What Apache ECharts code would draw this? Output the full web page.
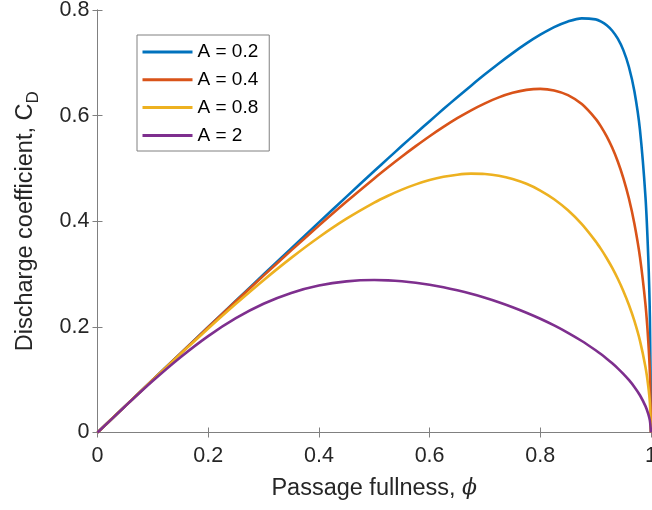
<!DOCTYPE html>
<html>
<head>
<meta charset="utf-8">
<script src="https://cdn.jsdelivr.net/npm/echarts@6/dist/echarts.min.js"></script>
<style>
html,body{margin:0;padding:0;background:#fff;}
#chart{width:652px;height:510px;}
</style>
</head>
<body>
<div id="chart"></div>
<script>
// Passage fullness values (x)
const phi = [0, 0.05, 0.1, 0.15, 0.2, 0.25, 0.3, 0.35, 0.4, 0.45, 0.5, 0.525, 0.55, 0.575, 0.6, 0.625, 0.65, 0.675, 0.7, 0.725, 0.75, 0.775, 0.8, 0.825, 0.85, 0.875, 0.9, 0.91, 0.92, 0.93, 0.94, 0.95, 0.96, 0.97, 0.98, 0.99, 0.995, 0.998, 1];
// Discharge coefficient values
const cdA02 = [0, 0.0500, 0.1000, 0.1499, 0.1998, 0.2496, 0.2992, 0.3487, 0.3979, 0.4467, 0.4951, 0.5190, 0.5428, 0.5663, 0.5895, 0.6124, 0.6349, 0.6568, 0.6782, 0.6988, 0.7184, 0.7367, 0.7532, 0.7675, 0.7783, 0.7842, 0.7822, 0.7780, 0.7712, 0.7608, 0.7457, 0.7240, 0.6925, 0.6460, 0.5735, 0.4463, 0.3332, 0.2182, 0];
const cdA04 = [0, 0.0500, 0.0999, 0.1497, 0.1992, 0.2484, 0.2970, 0.3448, 0.3917, 0.4373, 0.4811, 0.5022, 0.5226, 0.5422, 0.5610, 0.5786, 0.5951, 0.6101, 0.6233, 0.6345, 0.6431, 0.6487, 0.6506, 0.6477, 0.6388, 0.6218, 0.5940, 0.5788, 0.5607, 0.5390, 0.5131, 0.4818, 0.4435, 0.3954, 0.3326, 0.2424, 0.1741, 0.1111, 0];
const cdA08 = [0, 0.0500, 0.0997, 0.1488, 0.1969, 0.2436, 0.2884, 0.3306, 0.3697, 0.4048, 0.4352, 0.4483, 0.4599, 0.4698, 0.4779, 0.4841, 0.4882, 0.4901, 0.4895, 0.4862, 0.4801, 0.4709, 0.4582, 0.4417, 0.4207, 0.3945, 0.3619, 0.3467, 0.3300, 0.3116, 0.2911, 0.2681, 0.2419, 0.2113, 0.1740, 0.1240, 0.0880, 0.0558, 0];
const cdA2  = [0, 0.0497, 0.0979, 0.1426, 0.1826, 0.2165, 0.2438, 0.2643, 0.2783, 0.2862, 0.2887, 0.2881, 0.2864, 0.2836, 0.2798, 0.2750, 0.2692, 0.2626, 0.2550, 0.2466, 0.2372, 0.2268, 0.2154, 0.2028, 0.1888, 0.1733, 0.1557, 0.1480, 0.1398, 0.1310, 0.1215, 0.1110, 0.0995, 0.0863, 0.0705, 0.0499, 0.0353, 0.0224, 0];
const seriesNames = ['A = 0.2', 'A = 0.4', 'A = 0.8', 'A = 2'];
const seriesValues = [cdA02, cdA04, cdA08, cdA2];
const xTicks = [0, 0.2, 0.4, 0.6, 0.8, 1];
const yTicks = [0, 0.2, 0.4, 0.6, 0.8];

const colors = ['#0072BD', '#D95319', '#EDB120', '#7E2F8E'];
const FONT = 'Liberation Sans, Arial, sans-serif';
const AXC = '#808080';
const TXT = '#262626';

const chart = echarts.init(document.getElementById('chart'), null, {renderer: 'canvas'});

const tickFmt = v => String(Math.round(v * 10) / 10);

const baseX = {
  type: 'value', min: xTicks[0], max: xTicks[xTicks.length - 1], interval: 0.2,
  splitLine: {show: false},
  axisLine: {show: true, lineStyle: {color: AXC, width: 1}},
  axisTick: {show: true, inside: true, length: 5, lineStyle: {color: AXC}}
};
const baseY = {
  type: 'value', min: yTicks[0], max: yTicks[yTicks.length - 1], interval: 0.2,
  splitLine: {show: false},
  axisLine: {show: true, lineStyle: {color: AXC, width: 1}},
  axisTick: {show: true, inside: true, length: 5, lineStyle: {color: AXC}}
};

const option = {
  animation: false,
  backgroundColor: '#ffffff',
  color: colors,
  grid: {left: 97.5, right: 1, top: 10, bottom: 77.5, containLabel: false, outerBoundsMode: 'none'},
  legend: {
    orient: 'vertical',
    left: 137, top: 35,
    padding: [7, 11, 5.6, 5.5],
    backgroundColor: '#ffffff',
    borderColor: AXC, borderWidth: 1, borderRadius: 0,
    icon: 'rect',
    itemWidth: 50, itemHeight: 3,
    itemGap: 7.8,
    data: seriesNames,
    textStyle: {fontFamily: FONT, fontSize: 19, color: '#000', lineHeight: 20, padding: [0, 0, 0, 0]}
  },
  xAxis: [
    Object.assign({}, baseX, {
      position: 'bottom',
      axisLabel: {show: true, margin: 13, fontFamily: FONT, fontSize: 21.5, color: TXT, formatter: tickFmt, showMaxLabel: true, showMinLabel: true},
      name: '{a|Passage fullness, }{p|ϕ}',
      nameLocation: 'middle',
      nameGap: 44,
      nameTextStyle: {
        rich: {
          a: {fontFamily: FONT, fontSize: 23.5, color: TXT},
          p: {fontFamily: 'DejaVu Serif, serif', fontStyle: 'italic', fontSize: 22, color: TXT}
        }
      }
    }),
    Object.assign({}, baseX, {position: 'top', axisLabel: {show: false}})
  ],
  yAxis: [
    Object.assign({}, baseY, {
      position: 'left',
      axisLabel: {show: true, margin: 8, fontFamily: FONT, fontSize: 21.5, color: TXT, formatter: tickFmt},
      name: '{a|Discharge coefficient, C}{b|D}',
      nameLocation: 'middle',
      nameRotate: 90,
      nameGap: 56,
      nameTextStyle: {
        rich: {
          a: {fontFamily: FONT, fontSize: 23.5, color: TXT},
          b: {fontFamily: FONT, fontSize: 17, color: TXT, padding: [14, 0, 0, 0]}
        }
      }
    }),
    Object.assign({}, baseY, {position: 'right', axisLabel: {show: false}})
  ],
  series: seriesValues.map((vals, i) => ({
    name: seriesNames[i],
    type: 'line',
    xAxisIndex: 0, yAxisIndex: 0,
    data: phi.map((p, j) => [p, vals[j]]),
    showSymbol: false,
    symbol: 'none',
    smooth: 0.3,
    lineStyle: {color: colors[i], width: 2.6},
    itemStyle: {color: colors[i]}
  }))
};
chart.setOption(option);
</script>
</body>
</html>
